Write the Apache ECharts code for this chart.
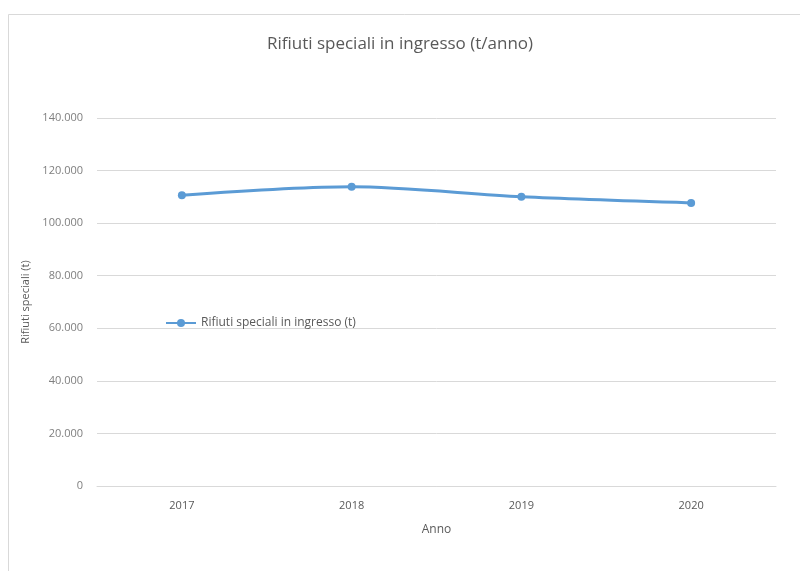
<!DOCTYPE html>
<html>
<head>
<meta charset="utf-8">
<script src="https://cdn.jsdelivr.net/npm/echarts@6/dist/echarts.min.js"></script>
<style>
  html, body { margin: 0; padding: 0; background: #fff; }
  #main { width: 800px; height: 571px; }
</style>
</head>
<body>
<div id="main"></div>
<script>
// dati
var anni = ['2017', '2018', '2019', '2020'];
var rifiutiIngresso = [110600, 113800, 110000, 107700];

var myChart = echarts.init(document.getElementById('main'));

function fmt(v) {
    return String(v).replace(/\B(?=(\d{3})+(?!\d))/g, '.');
}

var option = {
    backgroundColor: '#fff',
    textStyle: { fontFamily: 'Open Sans' },
    graphic: [{
        type: 'rect',
        shape: { x: 8.5, y: 14.5, width: 800, height: 570 },
        style: { fill: 'none', stroke: '#d9d9d9', lineWidth: 1 },
        silent: true
    }],
    title: {
        text: 'Rifiuti speciali in ingresso (t/anno)',
        left: 'center',
        top: 31,
        textStyle: { color: '#595959', fontSize: 17, fontWeight: 'normal' }
    },
    legend: {
        left: 160,
        top: 312,
        itemWidth: 30,
        itemHeight: 10,
        itemGap: 4,
        textStyle: { color: '#595959', fontSize: 12 },
        data: ['Rifiuti speciali in ingresso (t)']
    },
    grid: { left: 97, right: 24, top: 118, bottom: 85 },
    xAxis: {
        type: 'category',
        data: anni,
        name: 'Anno',
        nameLocation: 'middle',
        nameGap: 38,
        nameTextStyle: { color: '#595959', fontSize: 12 },
        axisLine: { lineStyle: { color: '#d9d9d9' } },
        axisTick: { show: false },
        axisLabel: { color: '#595959', fontSize: 11, margin: 14 }
    },
    yAxis: {
        type: 'value',
        min: 0,
        max: 140000,
        interval: 20000,
        name: 'Rifiuti speciali (t)',
        nameLocation: 'middle',
        nameGap: 66,
        nameTextStyle: { color: '#595959', fontSize: 11 },
        axisLine: { show: false },
        axisTick: { show: false },
        splitLine: { lineStyle: { color: '#d9d9d9' } },
        axisLabel: { color: '#7f7f7f', fontSize: 11, margin: 14, formatter: fmt }
    },
    series: [{
        name: 'Rifiuti speciali in ingresso (t)',
        type: 'line',
        data: rifiutiIngresso,
        smooth: 0.3,
        symbol: 'circle',
        symbolSize: 8,
        lineStyle: { color: '#5b9bd5', width: 3 },
        itemStyle: { color: '#5b9bd5' }
    }]
};

myChart.setOption(option);
</script>
</body>
</html>
